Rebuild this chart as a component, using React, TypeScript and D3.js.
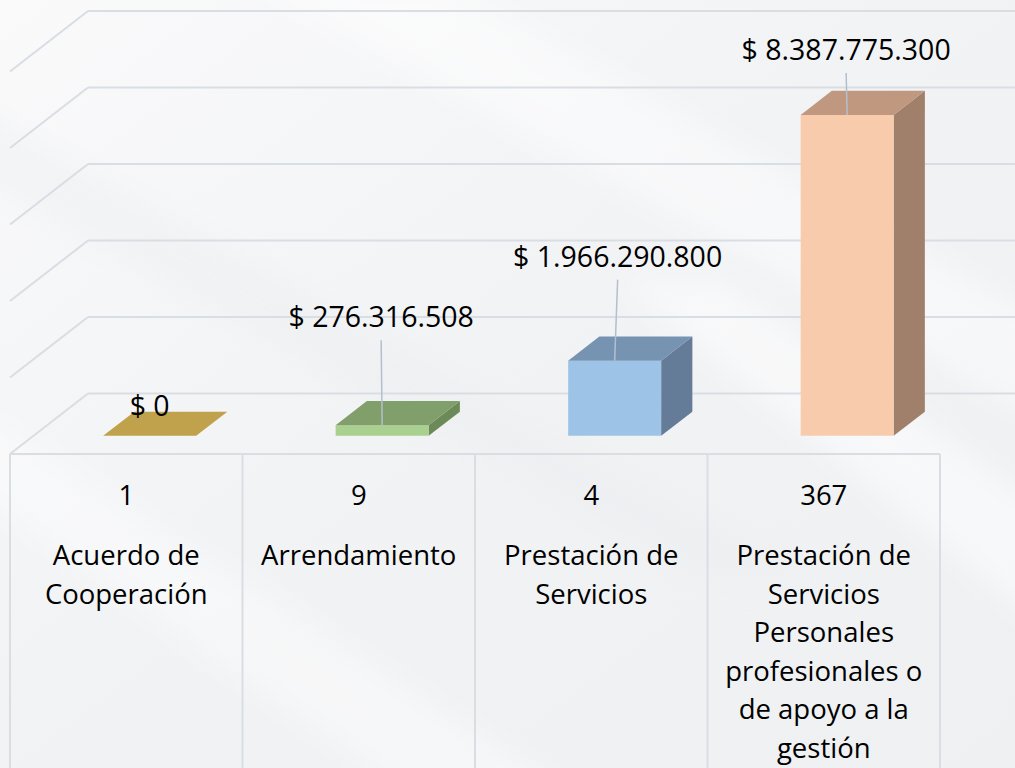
import React from 'react';
import * as d3 from 'd3';

const categories = [
    'Acuerdo de Cooperación',
    'Arrendamiento',
    'Prestación de Servicios',
    'Prestación de Servicios Personales profesionales o de apoyo a la gestión',
];
const categoryLines = [
    ['Acuerdo de', 'Cooperación'],
    ['Arrendamiento'],
    ['Prestación de', 'Servicios'],
    ['Prestación de', 'Servicios', 'Personales', 'profesionales o', 'de apoyo a la', 'gestión'],
];
const contractCounts = [1, 9, 4, 367];
const contractValues = [0, 276316508, 1966290800, 8387775300];
const yTicks = [0, 2e9, 4e9, 6e9, 8e9, 10e9];

// manual label placement (Excel-style dragged labels)
const labelLift = [20, 98, 94, 55];
const labelShift = [0, -1, 3, -1];

const barColors = [
    { front: '#d9b85a', top: '#bfa24b', side: '#a08840' },
    { front: '#a9d08e', top: '#809f6b', side: '#6b8a58' },
    { front: '#9dc3e6', top: '#7693b1', side: '#647c97' },
    { front: '#f8cbad', top: '#c09880', side: '#a0806a' },
];

const W = 1015;
const H = 768;
const FLOOR_Y = 454;
const DX = 78;
const DY = 60.5;
const BAR_FRONT = 0.3;
const BAR_BACK = 0.7;
const FONT = '"Open Sans", sans-serif';
const GRID = '#d9dde4';

const locale = d3.formatLocale({ decimal: ',', thousands: '.', grouping: [3], currency: ['$ ', ''] });
const money = locale.format('$,');

const App: React.FC = () => {
    const x = d3.scaleBand<string>().domain(categories).range([10, 940]);
    const h = d3.scaleLinear().domain([0, 10e9]).range([0, 382.5]);
    const barHalf = x.bandwidth() * 0.2;

    // project a point in the front plane (xf, value) back by depth d
    const P = (xf: number, v: number, d: number): [number, number] => [xf + d * DX, FLOOR_Y - d * DY - h(v)];
    const pts = (arr: [number, number][]) => arr.map((p) => p.join(',')).join(' ');

    return (
        <div style={{ position: 'absolute', left: 0, top: 0 }}>
            <svg width={W} height={H} style={{ display: 'block' }}>
                <defs>
                    <linearGradient id="bg" x1="0" y1="0" x2="1" y2="1">
                        <stop offset="0" stopColor="#fafafb" />
                        <stop offset="0.45" stopColor="#f2f3f5" />
                        <stop offset="1" stopColor="#eef0f2" />
                    </linearGradient>
                    <filter id="soft" x="-20%" y="-20%" width="140%" height="140%">
                        <feGaussianBlur stdDeviation="14" />
                    </filter>
                    <clipPath id="clip">
                        <rect x={0} y={0} width={W} height={H} />
                    </clipPath>
                </defs>
                <rect x={0} y={0} width={W} height={H} fill="url(#bg)" />
                {/* soft diagonal streaks */}
                <g filter="url(#soft)">
                    <polygon points="-40,100 -40,170 700,580 820,580" fill="#e8eaed" opacity={0.35} />
                    <polygon points="-40,400 -40,480 420,800 580,800" fill="#ffffff" opacity={0.4} />
                    <polygon points="250,-20 440,-20 1060,330 1060,430" fill="#ffffff" opacity={0.45} />
                    <polygon points="620,280 720,280 1060,520 1060,640" fill="#ffffff" opacity={0.5} />
                </g>

                <g clipPath="url(#clip)">
                    {yTicks.map((t) => {
                        const back = P(10, t, 1);
                        const front = P(10, t, 0);
                        const right = P(940, t, 1);
                        return (
                            <g key={t}>
                                <line x1={back[0]} y1={back[1]} x2={right[0]} y2={right[1]} stroke={GRID} strokeWidth={2} />
                                <line x1={back[0]} y1={back[1]} x2={front[0]} y2={front[1]} stroke={GRID} strokeWidth={2} />
                            </g>
                        );
                    })}
                </g>

                {/* table under the floor */}
                <line x1={10} y1={FLOOR_Y} x2={940} y2={FLOOR_Y} stroke={GRID} strokeWidth={2} />
                {[...categories.map((c) => x(c) as number), 940].map((bx, i) => (
                    <line key={i} x1={bx} y1={FLOOR_Y} x2={bx} y2={H} stroke={GRID} strokeWidth={2} />
                ))}

                {categories.map((c, i) => {
                    const cx = (x(c) as number) + x.bandwidth() / 2;
                    const v = contractValues[i];
                    const col = barColors[i];
                    const x0 = cx - barHalf;
                    const x1 = cx + barHalf;
                    const fbl = P(x0, 0, BAR_FRONT);
                    const fbr = P(x1, 0, BAR_FRONT);
                    const ftl = P(x0, v, BAR_FRONT);
                    const ftr = P(x1, v, BAR_FRONT);
                    const btl = P(x0, v, BAR_BACK);
                    const btr = P(x1, v, BAR_BACK);
                    const bbr = P(x1, 0, BAR_BACK);
                    const topCenter = P(cx, v, BAR_FRONT);
                    const lx = topCenter[0] + labelShift[i];
                    const ly = topCenter[1] - labelLift[i];
                    return (
                        <g key={c}>
                            {v > 0 && <polygon points={pts([fbr, ftr, btr, bbr])} fill={col.side} />}
                            {v > 0 && <polygon points={pts([fbl, fbr, ftr, ftl])} fill={col.front} />}
                            <polygon points={pts([ftl, ftr, btr, btl])} fill={col.top} />
                            {labelLift[i] > 40 && (
                                <line x1={lx} y1={ly + 13} x2={topCenter[0]} y2={topCenter[1]} stroke="#b3bfcf" strokeWidth={1.5} />
                            )}
                            <text x={lx} y={ly} textAnchor="middle" fontFamily={FONT} fontSize={28.5} fill="#000">
                                {money(v)}
                            </text>
                        </g>
                    );
                })}

                {categories.map((c, i) => {
                    const cx = (x(c) as number) + x.bandwidth() / 2;
                    return (
                        <g key={c + '-t'} fontFamily={FONT} fontSize={27.5} fill="#000" textAnchor="middle">
                            <text x={cx} y={505}>{contractCounts[i]}</text>
                            {categoryLines[i].map((line, j) => (
                                <text key={j} x={cx} y={565 + j * 38.5}>{line}</text>
                            ))}
                        </g>
                    );
                })}
            </svg>
        </div>
    );
};

export default App;
